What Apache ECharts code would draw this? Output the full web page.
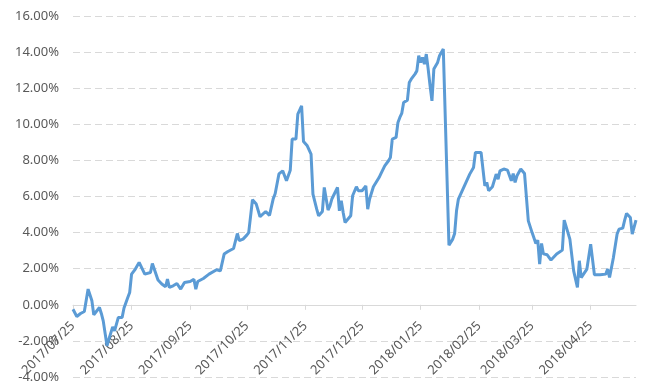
<!DOCTYPE html>
<html>
<head>
<meta charset="utf-8">
<script src="https://cdn.jsdelivr.net/npm/echarts@6/dist/echarts.min.js"></script>
<style>
html,body{margin:0;padding:0;background:#fff;}
#c{width:651px;height:387px;}
</style>
</head>
<body>
<div id="c"></div>
<script>
// Data
var dates = [
'2017/07/25','2017/07/27','2017/07/29','2017/07/31','2017/08/02','2017/08/03','2017/08/04','2017/08/05',
'2017/08/08','2017/08/09','2017/08/10','2017/08/12','2017/08/13','2017/08/15','2017/08/16','2017/08/18',
'2017/08/20','2017/08/21','2017/08/23','2017/08/24','2017/08/25','2017/08/27','2017/08/29','2017/08/30',
'2017/09/01','2017/09/04','2017/09/05','2017/09/08','2017/09/10','2017/09/12','2017/09/13','2017/09/14',
'2017/09/16','2017/09/18','2017/09/20','2017/09/22','2017/09/25','2017/09/27','2017/09/28','2017/09/29',
'2017/10/02','2017/10/05','2017/10/09','2017/10/11','2017/10/13','2017/10/15','2017/10/18','2017/10/20',
'2017/10/21','2017/10/23','2017/10/25','2017/10/26','2017/10/28','2017/10/30','2017/11/01','2017/11/04',
'2017/11/06','2017/11/08','2017/11/09','2017/11/11','2017/11/13','2017/11/14','2017/11/15','2017/11/17',
'2017/11/18','2017/11/20','2017/11/21','2017/11/23','2017/11/24','2017/11/26','2017/11/28','2017/11/29',
'2017/11/30','2017/12/01','2017/12/02','2017/12/04','2017/12/05','2017/12/07','2017/12/08','2017/12/09',
'2017/12/12','2017/12/13','2017/12/14','2017/12/15','2017/12/16','2017/12/19','2017/12/20','2017/12/22',
'2017/12/23','2017/12/25','2017/12/27','2017/12/28','2017/12/29','2017/12/31','2018/01/03','2018/01/04',
'2018/01/06','2018/01/08','2018/01/09','2018/01/10','2018/01/12','2018/01/13','2018/01/14','2018/01/15',
'2018/01/16','2018/01/18','2018/01/19','2018/01/20','2018/01/22','2018/01/23','2018/01/24','2018/01/25',
'2018/01/26','2018/01/27','2018/01/28','2018/01/29','2018/01/30','2018/01/31','2018/02/01','2018/02/03',
'2018/02/04','2018/02/06','2018/02/09','2018/02/11','2018/02/12','2018/02/13','2018/02/14','2018/02/20',
'2018/02/22','2018/02/23','2018/02/26','2018/02/28','2018/03/01','2018/03/02','2018/03/04','2018/03/06',
'2018/03/07','2018/03/08','2018/03/10','2018/03/12','2018/03/14','2018/03/15','2018/03/16','2018/03/17',
'2018/03/19','2018/03/21','2018/03/23','2018/03/25','2018/03/27','2018/03/28','2018/03/29','2018/03/30',
'2018/03/31','2018/04/02','2018/04/04','2018/04/07','2018/04/10','2018/04/11','2018/04/12','2018/04/14',
'2018/04/16','2018/04/18','2018/04/19','2018/04/20','2018/04/23','2018/04/25','2018/04/27','2018/04/30',
'2018/05/03','2018/05/04','2018/05/05','2018/05/07','2018/05/09','2018/05/10','2018/05/12','2018/05/13',
'2018/05/14','2018/05/16','2018/05/17','2018/05/18','2018/05/19'
];
var values = [
-0.25,-0.65,-0.48,-0.37,0.87,0.96,0.22,-0.55,
-0.15,-0.48,-0.89,-2.27,-1.90,-1.22,-1.44,-0.70,
-0.70,-0.18,0.40,0.68,1.70,1.98,2.35,2.40,
1.70,1.79,2.29,1.37,1.15,1.00,1.42,0.96,
1.05,1.18,0.87,1.24,1.29,1.42,0.87,1.29,
1.46,1.70,1.94,1.88,2.81,2.95,3.12,3.95,
3.55,3.64,3.86,4.00,5.82,5.58,4.88,5.17,
4.95,5.88,6.15,7.25,7.42,7.46,6.87,7.46,
9.18,9.18,10.56,11.02,9.05,8.81,8.35,6.13,
6.04,5.30,4.93,5.17,6.50,5.25,5.48,5.86,
6.50,5.21,5.76,5.11,4.56,4.93,6.04,6.54,
6.32,6.32,6.59,5.30,5.86,6.54,7.05,7.27,
7.70,7.98,8.16,9.18,9.27,10.10,10.38,10.60,
11.21,11.34,12.32,12.50,12.78,12.96,13.80,13.43,
13.70,13.33,13.89,13.06,12.13,11.30,13.06,13.43,
13.80,14.17,3.30,3.64,3.95,5.21,5.86,7.24,
7.61,8.44,8.44,6.59,6.78,6.32,6.54,7.24,
6.96,7.42,7.52,7.46,6.87,7.27,6.78,7.15,
7.52,7.27,4.65,4.00,3.40,3.58,2.25,3.40,
2.82,2.77,2.48,2.81,3.03,4.69,4.69,3.64,
1.88,0.96,2.44,1.51,1.98,3.36,1.66,1.66,
1.70,1.98,1.51,2.59,3.92,4.19,4.25,4.69,
5.06,4.84,3.92,3.88,4.69
];
var tickLabels = ['2017/07/25','2017/08/25','2017/09/25','2017/10/25','2017/11/25','2017/12/25',
  '2018/01/25','2018/02/25','2018/03/25','2018/04/25'];
var axisStart = '2017/07/25';
var axisEnd = '2018/05/19';
var yMin = -4, yMax = 16, yStep = 2;

function toTs(s){ var p = s.split('/'); return Date.UTC(+p[0], +p[1]-1, +p[2]); }
function pad(n){ return (n<10?'0':'')+n; }
function fmt(ts){ var d = new Date(ts); return d.getUTCFullYear()+'/'+pad(d.getUTCMonth()+1)+'/'+pad(d.getUTCDate()); }

var seriesData = dates.map(function(d,i){ return [toTs(d), values[i]]; });
var tickTs = tickLabels.map(toTs);

var W = 651, H = 387;
var G = {left: 73, right: 15, top: 16, bottom: 10};
var gridH = H - G.top - G.bottom;
// place the date axis where y = 0 (the axis crosses at zero, as in the source)
var zeroOffset = -gridH * (0 - yMin) / (yMax - yMin);

var chart = echarts.init(document.getElementById('c'), null, {renderer:'canvas'});
var font = 'Noto Sans';
chart.setOption({
  animation: false,
  backgroundColor: '#ffffff',
  grid: {left: G.left, right: G.right, top: G.top, bottom: G.bottom, containLabel: false, outerBoundsMode: 'none'},
  xAxis: {
    type: 'value',
    min: toTs(axisStart),
    max: toTs(axisEnd),
    offset: zeroOffset,
    z: 1,
    axisLine: {show: true, onZero: false, lineStyle: {color: '#d9d9d9', width: 1}},
    axisTick: {show: true, customValues: tickTs, length: 5, lineStyle: {color: '#d9d9d9'}},
    axisLabel: {
      customValues: tickTs,
      rotate: 45,
      color: '#595959',
      fontSize: 13,
      fontFamily: font,
      margin: 19,
      hideOverlap: false,
      formatter: function(v){ return fmt(v); }
    },
    splitLine: {show: false}
  },
  yAxis: {
    type: 'value',
    min: yMin, max: yMax, interval: yStep,
    axisLine: {show: false, onZero: false},
    axisTick: {show: false},
    axisLabel: {
      color: '#595959', fontSize: 13, fontFamily: font, margin: 14,
      formatter: function(v){ return v.toFixed(2) + '%'; }
    },
    splitLine: {show: true, lineStyle: {color: '#d9d9d9', width: 1, type: [7, 4]}}
  },
  series: [{
    type: 'line',
    z: 5,
    data: seriesData,
    showSymbol: false,
    symbol: 'none',
    smooth: false,
    lineStyle: {color: '#5B9BD5', width: 3},
    itemStyle: {color: '#5B9BD5'}
  }]
});
</script>
</body>
</html>
